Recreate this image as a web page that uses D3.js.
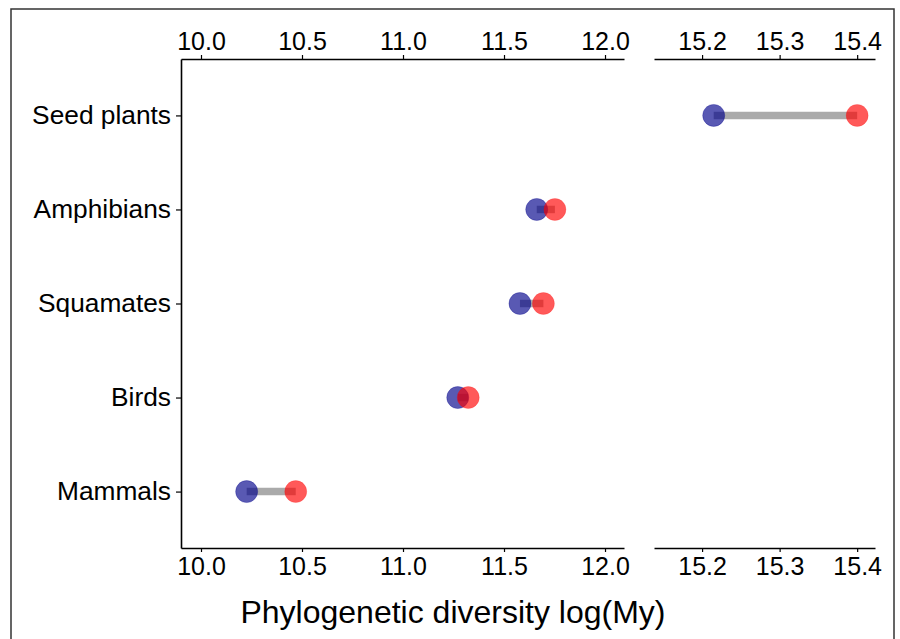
<body style="margin:0;background:#fff">
<script src="https://cdn.jsdelivr.net/npm/d3@7"></script>
<script>
    const categories = ["Seed plants", "Amphibians", "Squamates", "Birds", "Mammals"];
    const startValues = [15.215, 11.662, 11.579, 11.271, 10.226];
    const endValues = [15.400, 11.752, 11.695, 11.323, 10.469];
    const leftTicks = [10.0, 10.5, 11.0, 11.5, 12.0];
    const rightTicks = [15.2, 15.3, 15.4];
    const xTitle = "Phylogenetic diversity log(My)";

    const width = 900;
    const height = 639;
    const plotTop = 59, plotBottom = 548;
    const font = "'Liberation Sans', Arial, sans-serif";

    const svg = d3.select("body")
        .append("svg")
        .attr("width", width)
        .attr("height", height)
        .style("display", "block");

    // outer frame
    svg.append("rect")
        .attr("x", 11).attr("y", 9)
        .attr("width", 883).attr("height", 660)
        .attr("fill", "none")
        .attr("stroke", "#333")
        .attr("stroke-width", 1.5);

    const xLeft = d3.scaleLinear().domain([9.901, 12.094]).range([181, 624]);
    const xRight = d3.scaleLinear().domain([15.138, 15.423]).range([654, 875]);
    const yScale = d3.scalePoint().domain(categories).range([plotTop, plotBottom]).padding(0.6);

    const xFor = v => v > 13 ? xRight(v) : xLeft(v);

    function styleAxis(g, size) {
        g.selectAll("path.domain").attr("stroke", "#000").attr("stroke-width", 1.6);
        g.selectAll(".tick line").attr("stroke", "#000").attr("stroke-width", 1.2);
        g.selectAll(".tick text")
            .attr("fill", "#000")
            .style("font-family", font)
            .style("font-size", size || "25px");
    }

    const fmt = d3.format(".1f");
    [[xLeft, leftTicks], [xRight, rightTicks]].forEach(([sc, ticks]) => {
        svg.append("g")
            .attr("transform", "translate(0," + plotTop + ")")
            .call(d3.axisTop(sc).tickValues(ticks).tickFormat(fmt).tickSize(4).tickSizeOuter(0).tickPadding(5))
            .call(styleAxis);
        svg.append("g")
            .attr("transform", "translate(0," + plotBottom + ")")
            .call(d3.axisBottom(sc).tickValues(ticks).tickFormat(fmt).tickSize(4).tickSizeOuter(0).tickPadding(5))
            .call(styleAxis);
    });

    svg.append("g")
        .attr("transform", "translate(181,0)")
        .call(d3.axisLeft(yScale).tickSize(5).tickSizeOuter(0).tickPadding(5))
        .call(styleAxis, "26.3px");

    const rows = categories.map((c, i) => ({c, a: startValues[i], b: endValues[i]}));

    svg.append("g").selectAll("line")
        .data(rows)
        .enter()
        .append("line")
        .attr("x1", d => xFor(d.a))
        .attr("x2", d => xFor(d.b))
        .attr("y1", d => yScale(d.c))
        .attr("y2", d => yScale(d.c))
        .attr("stroke", "#aaaaaa")
        .attr("stroke-width", 7.5);

    svg.append("g").selectAll("circle")
        .data(rows)
        .enter()
        .append("circle")
        .attr("cx", d => xFor(d.a))
        .attr("cy", d => yScale(d.c))
        .attr("r", 11)
        .attr("fill", "#00008b")
        .attr("fill-opacity", 0.65)
        .attr("stroke", "#00008b")
        .attr("stroke-opacity", 0.3);

    svg.append("g").selectAll("circle")
        .data(rows)
        .enter()
        .append("circle")
        .attr("cx", d => xFor(d.b))
        .attr("cy", d => yScale(d.c))
        .attr("r", 11)
        .attr("fill", "#ff0000")
        .attr("fill-opacity", 0.65)
        .attr("stroke", "#ff0000")
        .attr("stroke-opacity", 0.2);

    svg.append("text")
        .attr("x", 453)
        .attr("y", 623)
        .attr("text-anchor", "middle")
        .style("font-family", font)
        .style("font-size", "32px")
        .text(xTitle);
</script>
</body>
